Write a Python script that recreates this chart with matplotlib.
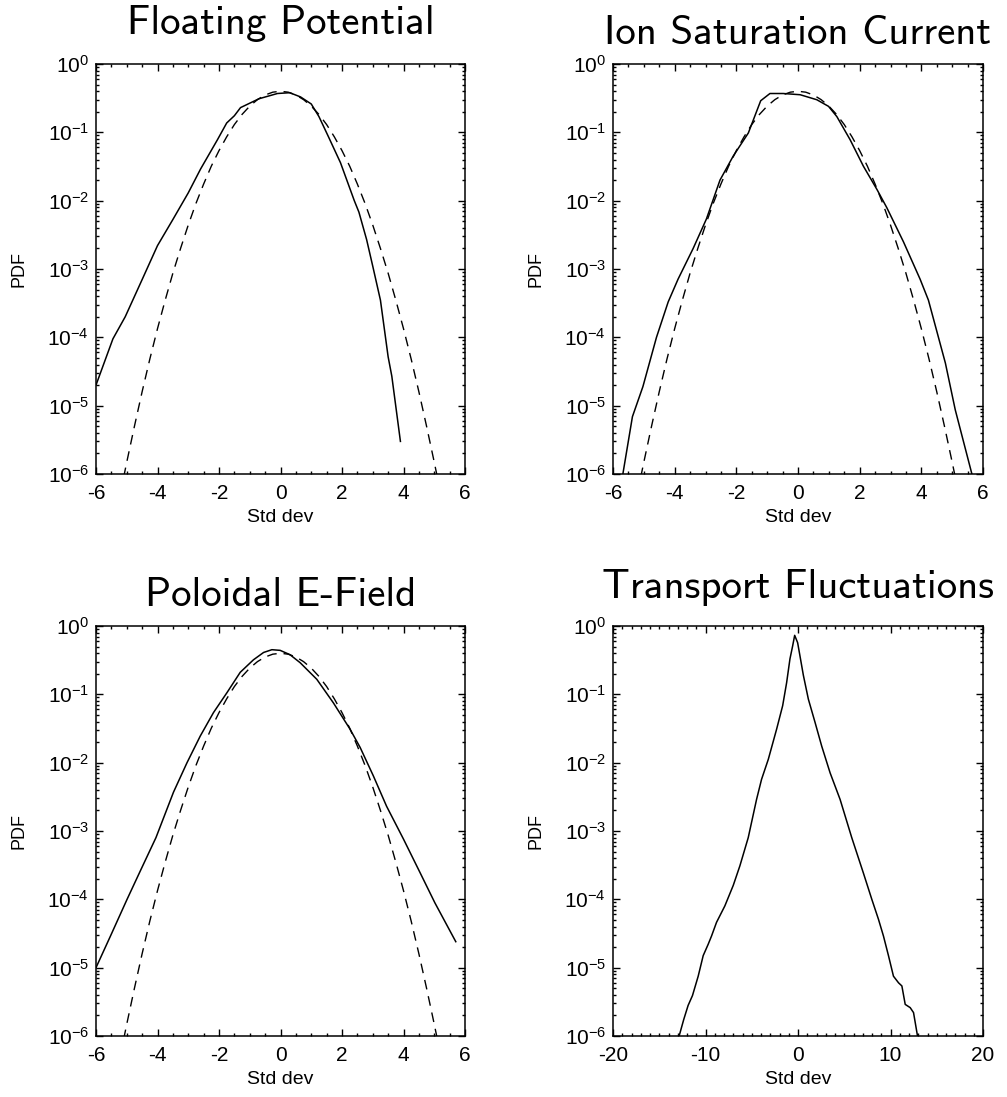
import numpy as np
import matplotlib
matplotlib.use('Agg')
import matplotlib.pyplot as plt
from matplotlib.ticker import MultipleLocator, FixedLocator, LogLocator, NullFormatter

plt.rcParams['font.family'] = ['Liberation Sans', 'DejaVu Sans']
plt.rcParams['mathtext.fontset'] = 'custom'
plt.rcParams['mathtext.rm'] = 'Liberation Sans'
plt.rcParams['mathtext.it'] = 'Liberation Sans:italic'
plt.rcParams['mathtext.default'] = 'regular'
plt.rcParams['axes.unicode_minus'] = False

# unit gaussian used as reference in the first three panels
gauss_x = [-5.1, -5.0, -4.75, -4.5, -4.25, -4.0, -3.75, -3.5, -3.25, -3.0, -2.75, -2.5,
           -2.25, -2.0, -1.75, -1.5, -1.25, -1.0, -0.75, -0.5, -0.25, 0.0,
           0.25, 0.5, 0.75, 1.0, 1.25, 1.5, 1.75, 2.0, 2.25, 2.5, 2.75, 3.0,
           3.25, 3.5, 3.75, 4.0, 4.25, 4.5, 4.75, 5.0, 5.1]
gauss_pdf = [9.0e-7, 1.49e-6, 5.0e-6, 1.6e-5, 4.8e-5, 1.34e-4, 3.5e-4, 8.7e-4, 2.0e-3, 4.4e-3,
             9.1e-3, 1.75e-2, 3.2e-2, 5.4e-2, 8.6e-2, 0.130, 0.183, 0.242, 0.301, 0.352, 0.387, 0.399,
             0.387, 0.352, 0.301, 0.242, 0.183, 0.130, 8.6e-2, 5.4e-2, 3.2e-2, 1.75e-2, 9.1e-3, 4.4e-3,
             2.0e-3, 8.7e-4, 3.5e-4, 1.34e-4, 4.8e-5, 1.6e-5, 5.0e-6, 1.49e-6, 9.0e-7]

# floating potential
fp_x = [-6.0, -5.45, -5.05, -4.5, -4.0, -3.5, -3.0, -2.6, -2.05, -1.75, -1.5, -1.3,
        -0.7, -0.1, 0.3, 0.65, 1.0, 1.25, 1.55, 1.95, 2.4, 2.55, 2.8, 3.0,
        3.25, 3.5, 3.62, 3.9]
fp_pdf = [2.0e-5, 9.5e-5, 2.0e-4, 7.0e-4, 2.2e-3, 5.3e-3, 1.3e-2, 2.9e-2, 7.8e-2, 0.137, 0.175, 0.23,
          0.31, 0.37, 0.38, 0.33, 0.26, 0.17, 8.8e-2, 3.6e-2, 1.0e-2, 6.8e-3, 2.7e-3, 1.1e-3,
          3.5e-4, 5.2e-5, 2.7e-5, 3.0e-6]

# ion saturation current
isat_x = [-5.68, -5.37, -5.03, -4.59, -4.21, -3.89, -3.40, -2.97, -2.53, -2.10, -1.61, -1.21,
          -0.91, -0.48, 0.07, 0.61, 0.99, 1.26, 1.69, 2.12, 2.56, 2.88, 3.42, 3.96,
          4.23, 4.78, 5.10, 5.64]
isat_pdf = [1.0e-6, 6.9e-6, 1.9e-5, 1.0e-4, 3.3e-4, 7.1e-4, 2.0e-3, 5.4e-3, 2.0e-2, 4.5e-2, 9.8e-2, 0.29,
            0.37, 0.37, 0.355, 0.30, 0.24, 0.17, 7.8e-2, 3.2e-2, 1.46e-2, 7.9e-3, 2.5e-3, 7.1e-4,
            3.5e-4, 4.2e-5, 8.7e-6, 1.0e-6]

# poloidal electric field
ep_x = [-6.0, -5.53, -4.99, -4.56, -4.05, -3.48, -3.04, -2.61, -2.18, -1.74, -1.31, -0.88,
        -0.55, -0.28, -0.01, 0.31, 0.64, 1.18, 1.72, 2.26, 2.59, 3.02, 3.45, 4.0,
        4.54, 5.02, 5.7]
ep_pdf = [1.0e-5, 2.9e-5, 1.0e-4, 2.6e-4, 8.0e-4, 3.7e-3, 1.0e-2, 2.45e-2, 5.4e-2, 0.106, 0.21, 0.32,
          0.41, 0.45, 0.44, 0.38, 0.29, 0.166, 7.5e-2, 3.1e-2, 1.67e-2, 6.4e-3, 2.3e-3, 7.6e-4,
          2.45e-4, 8.9e-5, 2.4e-5]

# radial transport (no gaussian reference)
tr_x = [-12.85, -12.35, -11.88, -11.41, -10.79, -10.25, -9.71, -9.35, -8.81, -7.91, -7.0, -6.28,
        -5.38, -4.48, -3.94, -3.21, -2.31, -1.66, -1.23, -0.87, -0.58, -0.36, -0.04, 0.22,
        0.58, 1.12, 1.84, 2.56, 3.47, 4.55, 5.81, 7.08, 7.98, 8.70, 9.24, 9.78,
        10.32, 10.87, 11.23, 11.59, 12.13, 12.49, 12.92]
tr_pdf = [1.0e-6, 1.75e-6, 2.8e-6, 3.9e-6, 7.5e-6, 1.5e-5, 2.2e-5, 2.9e-5, 4.6e-5, 8.0e-5, 1.6e-4, 3.1e-4,
          8.0e-4, 2.9e-3, 5.7e-3, 1.12e-2, 3.1e-2, 6.8e-2, 0.148, 0.33, 0.51, 0.73, 0.57, 0.36,
          0.19, 8.5e-2, 3.9e-2, 1.75e-2, 7.1e-3, 2.9e-3, 8.0e-4, 2.4e-4, 1.0e-4, 5.1e-5, 2.9e-5, 1.5e-5,
          7.5e-6, 6.0e-6, 5.4e-6, 2.9e-6, 2.6e-6, 2.2e-6, 1.0e-6]

decades = [1e-6, 1e-5, 1e-4, 1e-3, 1e-2, 1e-1, 1e0]

W, H = 1007, 1097
fig = plt.figure(figsize=(W / 100, H / 100), dpi=100)


def make_axes(left, top, right, bottom):
    return fig.add_axes([left / W, 1 - bottom / H, (right - left) / W, (bottom - top) / H])


panels = [
    ('Floating Potential', (96, 64, 465, 474), 34, fp_x, fp_pdf, True, (-6, 6), 2, 0.5),
    ('Ion Saturation Current', (613, 64, 983, 474), 44, isat_x, isat_pdf, True, (-6, 6), 2, 0.5),
    ('Poloidal E-Field', (96, 626, 465, 1036), 606, ep_x, ep_pdf, True, (-6, 6), 2, 0.5),
    ('Transport Fluctuations', (613, 626, 983, 1036), 598, tr_x, tr_pdf, False, (-20, 20), 10, 1),
]

for title, box, title_y, x, pdf, show_gauss, xlim, major, minor in panels:
    ax = make_axes(*box)
    ax.plot(x, pdf, color='black', lw=1.1)
    if show_gauss:
        ax.plot(gauss_x, gauss_pdf, color='black', lw=1.0, ls=(0, (7, 5)))
    ax.set_yscale('log')
    ax.set_ylim(1e-6, 1)
    ax.set_xlim(*xlim)
    ax.xaxis.set_major_locator(MultipleLocator(major))
    ax.xaxis.set_minor_locator(MultipleLocator(minor))
    ax.yaxis.set_major_locator(FixedLocator(decades))
    ax.yaxis.set_minor_locator(LogLocator(base=10, subs=np.arange(2, 10), numticks=20))
    ax.yaxis.set_minor_formatter(NullFormatter())
    ax.tick_params(which='both', direction='in', top=True, right=True, width=1.0)
    ax.tick_params(which='major', length=5)
    ax.tick_params(which='minor', length=2.5)
    ax.tick_params(axis='x', which='major', labelsize=15, pad=7)
    ax.tick_params(axis='y', which='major', labelsize=15, pad=5)
    for s in ax.spines.values():
        s.set_linewidth(1.1)
    ax.set_xlabel('Std dev', fontsize=14, va='top')
    ax.xaxis.set_label_coords(0.5, -0.085)
    ax.set_ylabel('PDF', fontsize=13)
    ax.yaxis.set_label_coords(-0.185, 0.5)
    cx = (box[0] + box[2]) / 2
    fig.text(cx / W, 1 - title_y / H, title, ha='center', va='baseline',
             family='cmss10', fontsize=29.5)

fig.savefig('out.png', dpi=100)
